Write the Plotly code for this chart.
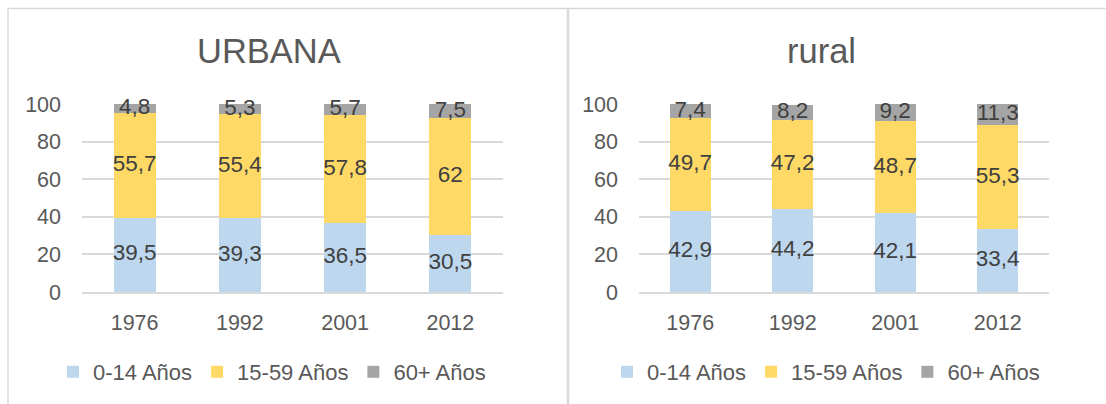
import plotly.graph_objects as go

years = ["1976", "1992", "2001", "2012"]
series_names = ["0-14 Años", "15-59 Años", "60+ Años"]
urbana_0_14 = [39.5, 39.3, 36.5, 30.5]
urbana_15_59 = [55.7, 55.4, 57.8, 62]
urbana_60 = [4.8, 5.3, 5.7, 7.5]
rural_0_14 = [42.9, 44.2, 42.1, 33.4]
rural_15_59 = [49.7, 47.2, 48.7, 55.3]
rural_60 = [7.4, 8.2, 9.2, 11.3]
colors = ["#BDD7EE", "#FFD966", "#A5A5A5"]
panel_titles = ["URBANA", "rural"]

W, H = 1106, 404
FONT = "Liberation Sans, Arial, sans-serif"


def fmt(v):
    return f"{v:g}".replace(".", ",")


fig = go.Figure()
panels = [
    ([urbana_0_14, urbana_15_59, urbana_60], "x", "y", "legend"),
    ([rural_0_14, rural_15_59, rural_60], "x2", "y2", "legend2"),
]
for vals_list, xa, ya, lg in panels:
    base = [0.0] * len(years)
    for name, vals, col in zip(series_names, vals_list, colors):
        fig.add_trace(go.Bar(
            x=years, y=vals, name=name, marker=dict(color=col, line=dict(width=0)),
            xaxis=xa, yaxis=ya, legend=lg, hoverinfo="skip",
        ))
        mids = [b + v / 2 for b, v in zip(base, vals)]
        fig.add_trace(go.Scatter(
            x=years, y=mids, mode="text", text=[fmt(v) for v in vals],
            textposition="middle center", showlegend=False, cliponaxis=False,
            textfont=dict(size=22.5, color="#404040", family=FONT),
            xaxis=xa, yaxis=ya, hoverinfo="skip",
        ))
        base = [b + v for b, v in zip(base, vals)]

px = lambda v: v / W
py = lambda v: 1 - v / H

ydom = [py(292), py(104)]
common_y = dict(range=[0, 100], tickvals=[0, 20, 40, 60, 80, 100], showgrid=True,
                gridcolor="#D9D9D9", gridwidth=1.5, zeroline=False, showline=False,
                tickfont=dict(size=21.5, color="#595959", family=FONT),
                ticklabelstandoff=20, fixedrange=True, automargin=False)
common_x = dict(showline=True, linecolor="#D9D9D9", linewidth=1.5, showgrid=False,
                tickfont=dict(size=21.5, color="#595959", family=FONT),
                ticklabelstandoff=10, fixedrange=True, automargin=False)

legend_common = dict(orientation="h", yanchor="middle", y=py(372), xanchor="center",
                     traceorder="normal", font=dict(size=22, color="#595959", family=FONT),
                     bgcolor="rgba(0,0,0,0)", itemclick=False, itemdoubleclick=False)

fig.update_layout(
    width=W, height=H,
    margin=dict(l=0, r=0, t=0, b=0, pad=0, autoexpand=False),
    paper_bgcolor="white", plot_bgcolor="white",
    barmode="stack", bargap=0.6,
    font=dict(family=FONT, color="#595959"),
    xaxis=dict(domain=[px(82), px(503)], anchor="y", **common_x),
    yaxis=dict(domain=ydom, anchor="x", **common_y),
    xaxis2=dict(domain=[px(639), px(1049)], anchor="y2", **common_x),
    yaxis2=dict(domain=ydom, anchor="x2", **common_y),
    legend=dict(x=px(272), **legend_common),
    legend2=dict(x=px(826), **legend_common),
    annotations=[
        dict(text=panel_titles[0], x=px(269), y=py(51), xref="paper", yref="paper",
             showarrow=False, xanchor="center", yanchor="middle",
             font=dict(size=34.5, color="#595959", family=FONT)),
        dict(text=panel_titles[1], x=px(821), y=py(51), xref="paper", yref="paper",
             showarrow=False, xanchor="center", yanchor="middle",
             font=dict(size=34.5, color="#595959", family=FONT)),
    ],
    shapes=[
        dict(type="line", xref="paper", yref="paper", x0=px(8), x1=1, y0=py(8.5), y1=py(8.5),
             line=dict(color="#D9D9D9", width=1.5)),
        dict(type="line", xref="paper", yref="paper", x0=px(8), x1=px(8), y0=py(8.5), y1=0,
             line=dict(color="#D9D9D9", width=1.5)),
        dict(type="line", xref="paper", yref="paper", x0=px(568), x1=px(568), y0=py(8.5), y1=0,
             line=dict(color="#D9D9D9", width=2.5)),
    ],
)

fig.write_html(
    "out.html",
    config={"displayModeBar": False},
    post_script="document.body.style.margin='0';document.body.style.padding='0';",
)
